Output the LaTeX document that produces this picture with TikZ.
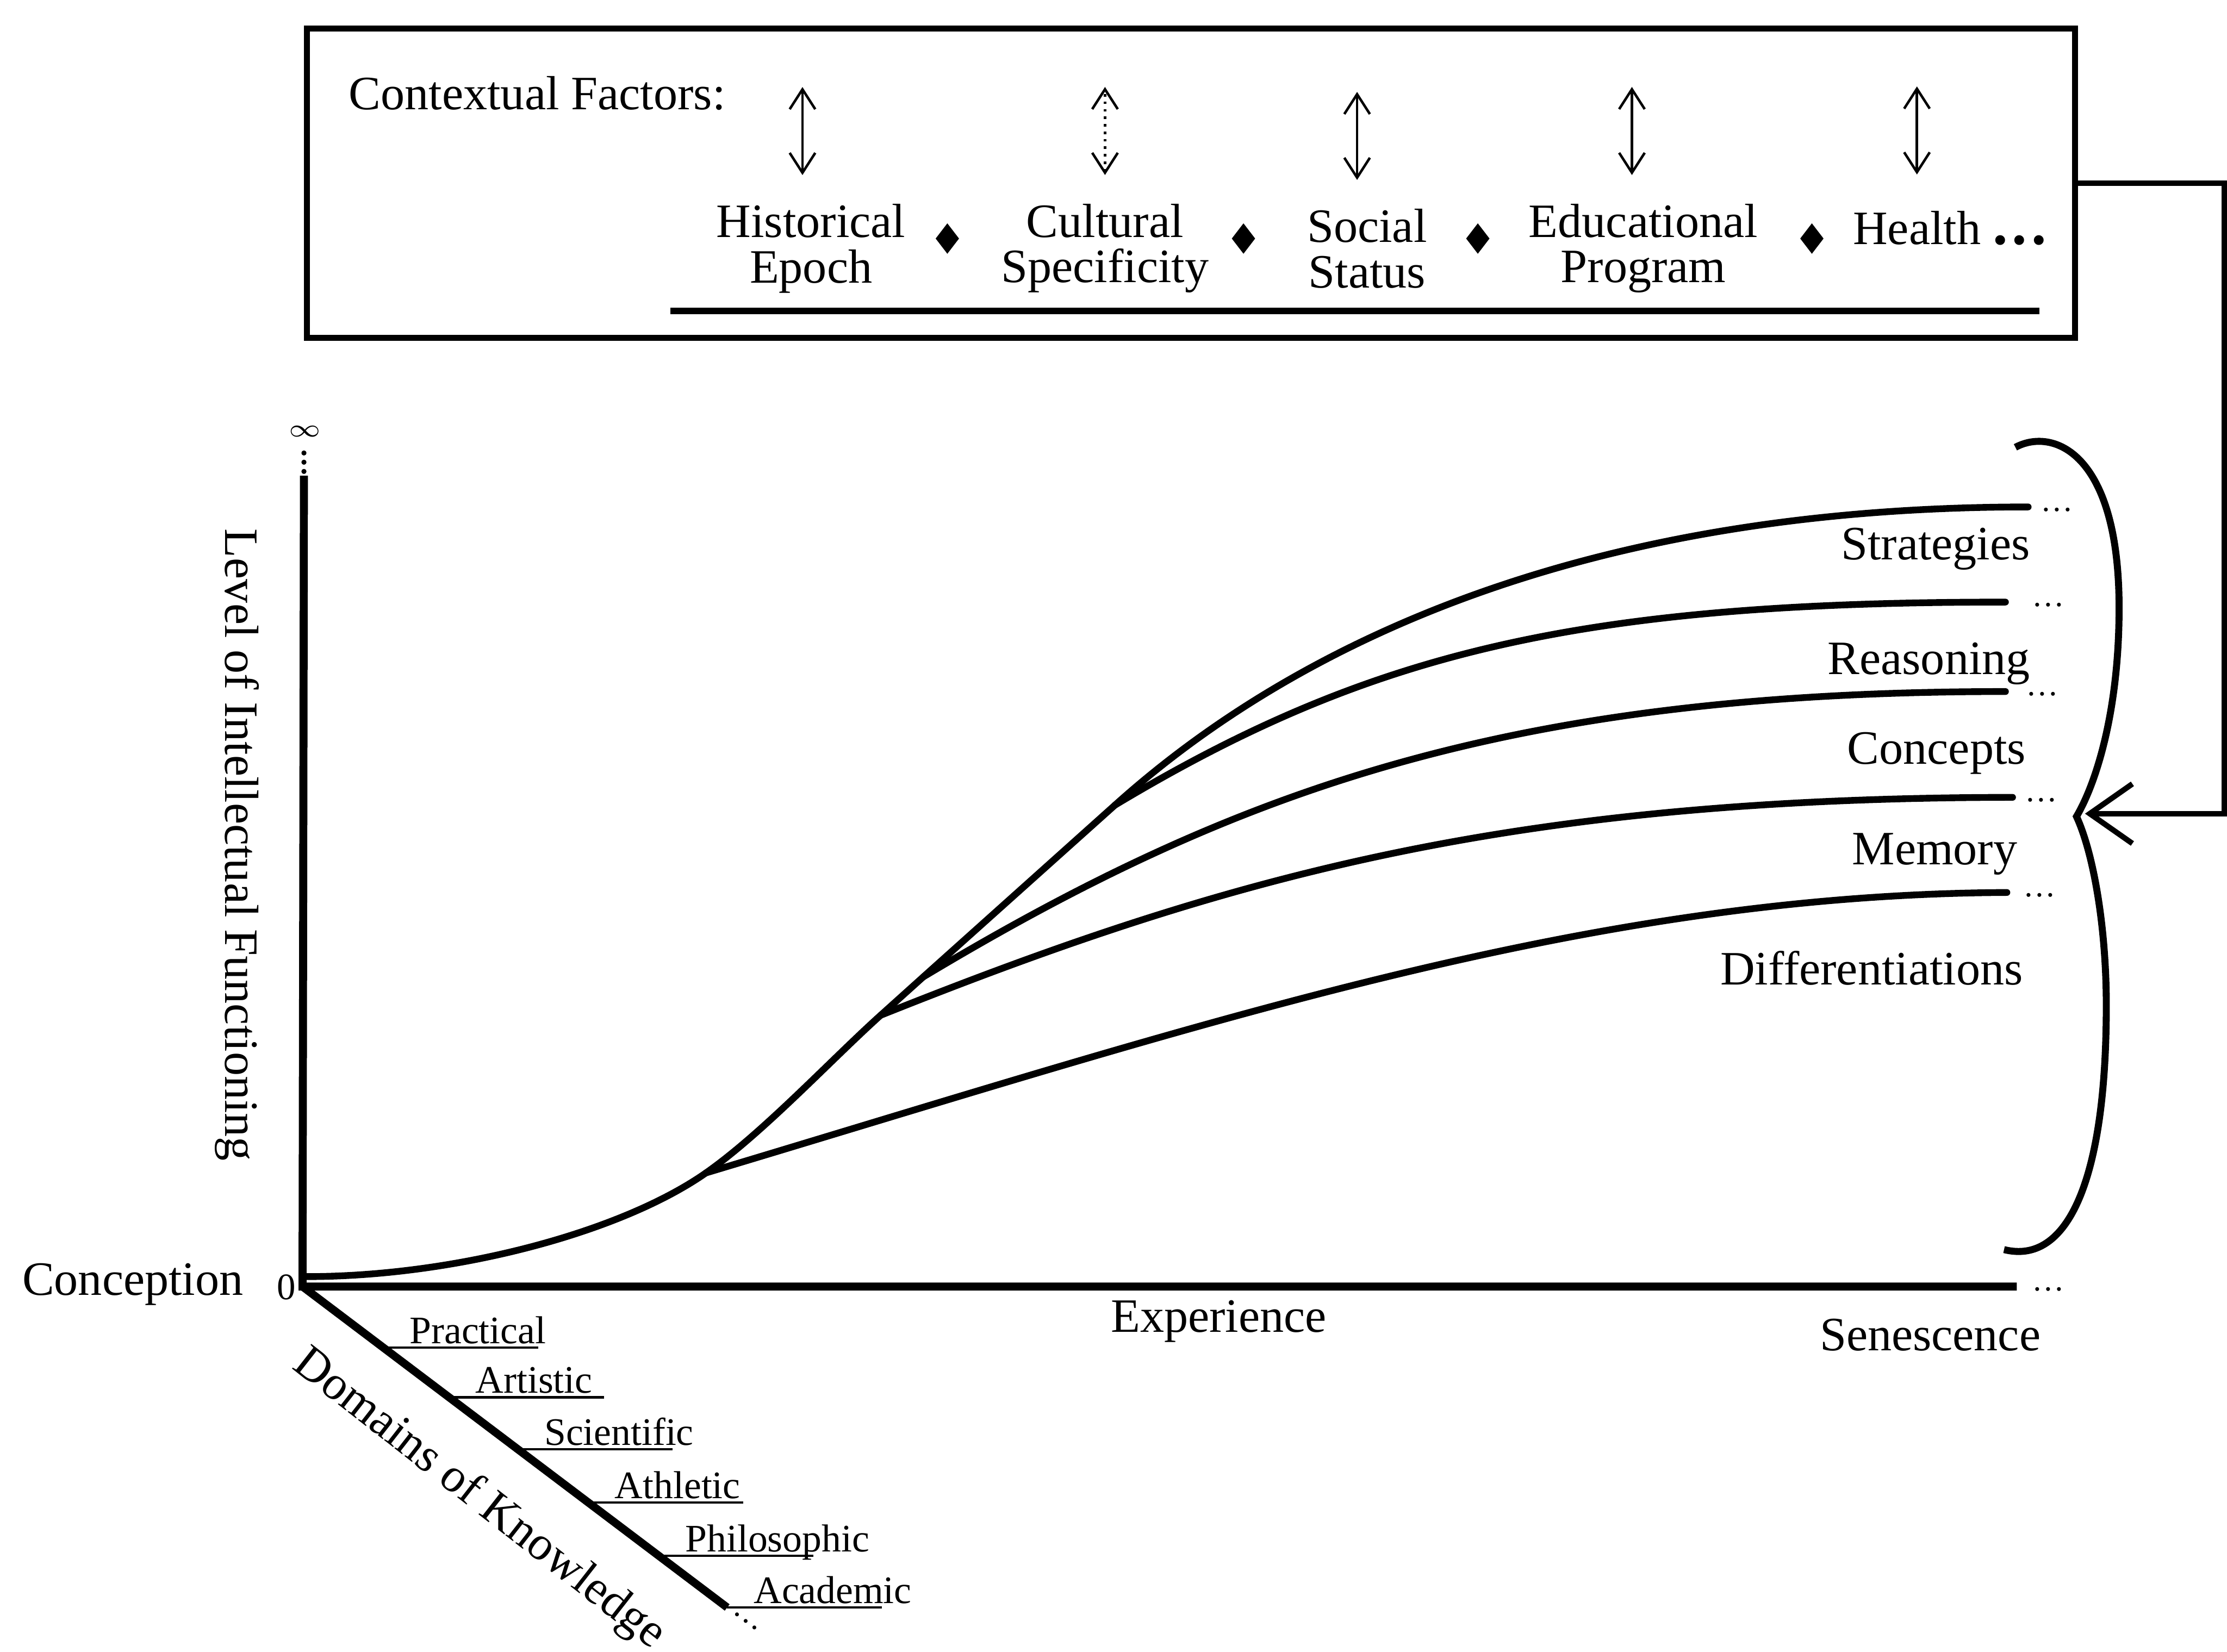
\documentclass[tikz,border=0pt]{standalone}
\usepackage{fontspec}
\setmainfont{Liberation Serif}
\usetikzlibrary{arrows.meta,calc,shapes.geometric}
\tikzset{axisline/.style={line width=1.6pt},growth/.style={line width=1.35pt,line cap=round},twoway/.style={{Straight Barb[length=1.4mm,width=1.8mm]}-{Straight Barb[length=1.4mm,width=1.8mm]},line width=.5pt},diam/.style={diamond,fill,inner sep=0pt,minimum width=1.7mm,minimum height=2.2mm},factor/.style={align=center,font=\fontsize{9.6}{9.1}\selectfont},lvl/.style={anchor=base east,inner sep=0pt},moredots/.style={anchor=base west,inner sep=0pt,font=\fontsize{6.5}{7}\selectfont},dom/.style={anchor=base west,inner sep=0pt,font=\fontsize{7.8}{9}\selectfont},link/.style={line width=1.1pt,-{Straight Barb[length=3mm,width=4.2mm]}}}

\begin{document}
\begin{tikzpicture}[font=\fontsize{9.6}{11}\selectfont]
\useasboundingbox (0,0) rectangle (15.68,11.63);
% contextual factors
\node[draw,line width=1.2pt,minimum width=12.45cm,minimum height=2.18cm,inner sep=0pt] (ctx) at (8.385,10.34) {};
\node[anchor=base west,inner sep=0pt] (ctxlbl) at (2.45,10.86) {Contextual Factors:};
\foreach \n/\xx/\dx/\st/\txt in {hist/5.71/-.06/solid/Historical\\Epoch,cult/7.78/0/densely dotted/Cultural\\Specificity,soc/9.625/-.07/solid/Social\\Status,edu/11.57/-.08/solid/Educational\\Program}{\node[factor] (\n) at (\xx,9.88) {\txt};
\draw[twoway,\st] ($(\n.north)+(\dx,.08)$) -- ++(0,.62);}
\node[anchor=base west,inner sep=0pt] (heal) at (13.04,9.91) {Health};
\node[anchor=base west,inner sep=0pt,font=\fontsize{12}{12}\bfseries] (heald) at ([xshift=2pt]heal.base east) {.\kern.9pt.\kern.9pt.};
\draw[twoway] ($(heal.north)+(0,.25)$) -- ++(0,.62);
\foreach \xx [count=\i] in {6.67,8.755,10.405,12.757}{\node[diam] (sep\i) at (\xx,9.95) {};}
\draw[line width=1.4pt] (4.72,9.44) -- (14.36,9.44);
\coordinate (turn) at (15.66,10.34);
\coordinate (tip) at (14.68,5.9);
\draw[link] (ctx.east) -- (turn) |- (tip);
% brace
\draw[line width=1.4pt] (14.19,8.48) .. controls (14.45,8.62) and (14.92,8.45) .. (14.92,7.35) .. controls (14.92,6.6) and (14.75,6.1) .. (14.62,5.88) .. controls (14.74,5.62) and (14.83,5.1) .. (14.83,4.55) .. controls (14.83,3.3) and (14.55,2.72) .. (14.11,2.83);
% axes
\coordinate (O) at (2.13,2.57);
\coordinate (ytop) at (2.14,8.28);
\coordinate (xend) at (14.20,2.57);
\coordinate (dk) at (5.12,0.31);
\draw[axisline] (ytop) -- (O) -- (xend);
\draw[axisline] (O) -- (dk);
\foreach \yy in {8.31,8.375,8.44}{\fill (2.14,\yy) circle (.018);}
\node[font=\fontsize{5.5}{6}\selectfont,inner sep=0pt] (inf) at (2.145,8.59) {$\infty$};
\node[anchor=base,inner sep=0pt,font=\fontsize{7.5}{8}\selectfont] (zero) at (2.015,2.48) {0};
\node[anchor=base east,inner sep=0pt] (conc) at (1.72,2.51) {Conception};
\node[rotate=-90] (lvllbl) at (1.67,5.68) {Level of Intellectual Functioning};
\node[anchor=base,inner sep=0pt] (expe) at (8.58,2.25) {Experience};
\node[anchor=base,inner sep=0pt] (sene) at (13.59,2.12) {Senescence};
\node[rotate=-38,inner sep=1pt] (domlbl) at (3.37,1.07) {Domains of Knowledge};
% domains
\foreach \n/\f/\txt in {prac/.19/Practical,art/.345/Artistic,sci/.507/Scientific,ath/.673/Athletic,phil/.839/Philosophic,acad/1/Academic}{\coordinate (\n) at ($(O)!\f!(dk)$);
\draw[line width=.5pt] (\n) -- ++(1.09,0);
\node[dom] (\n l) at ($(\n)+(.18,.03)$) {\txt};}
\node[moredots,rotate=-37] (dkm) at ($(dk)+(.03,-.03)$) {\ldots};
% curves
\coordinate (c0) at (2.16,2.64);
\coordinate (p1) at (4.97,3.37);
\coordinate (q1) at (6.2,4.48);
\coordinate (q2) at (6.5,4.75);
\coordinate (q3) at (7.85,5.96);
\coordinate (sEnd) at (14.28,8.06);
\coordinate (rEnd) at (14.12,7.39);
\coordinate (cEnd) at (14.12,6.76);
\coordinate (mEnd) at (14.17,6.015);
\coordinate (dEnd) at (14.13,5.345);
\draw[growth] (c0) .. controls (3.2,2.64) and (4.37,2.95) .. (p1) .. controls (5.37,3.65) and (5.85,4.165) .. (q1) -- (q2) -- (q3) .. controls (9.15,7.13) and (11.2,8.06) .. (sEnd);
\draw[growth] (p1) .. controls (8.47,4.42) and (11.15,5.33) .. (dEnd);
\draw[growth] (q1) .. controls (8.7,5.48) and (10.66,6.01) .. (mEnd);
\draw[growth] (q2) .. controls (8.7,6.07) and (10.62,6.76) .. (cEnd);
\draw[growth] (q3) .. controls (9.65,7.04) and (11.12,7.39) .. (rEnd);
\foreach \n/\dx in {sEnd/.08,rEnd/.18,cEnd/.14,mEnd/.08,dEnd/.11,xend/.10}{\node[moredots] (\n m) at ($(\n)+(\dx,-.03)$) {\ldots};}
\foreach \n/\xx/\yy/\txt in {str/14.30/7.688/Strategies,rea/14.30/6.881/Reasoning,con/14.27/6.25/Concepts,mem/14.21/5.542/Memory,dif/14.25/4.695/Differentiations}{\node[lvl] (\n) at (\xx,\yy) {\txt};}
\end{tikzpicture}
\end{document}
